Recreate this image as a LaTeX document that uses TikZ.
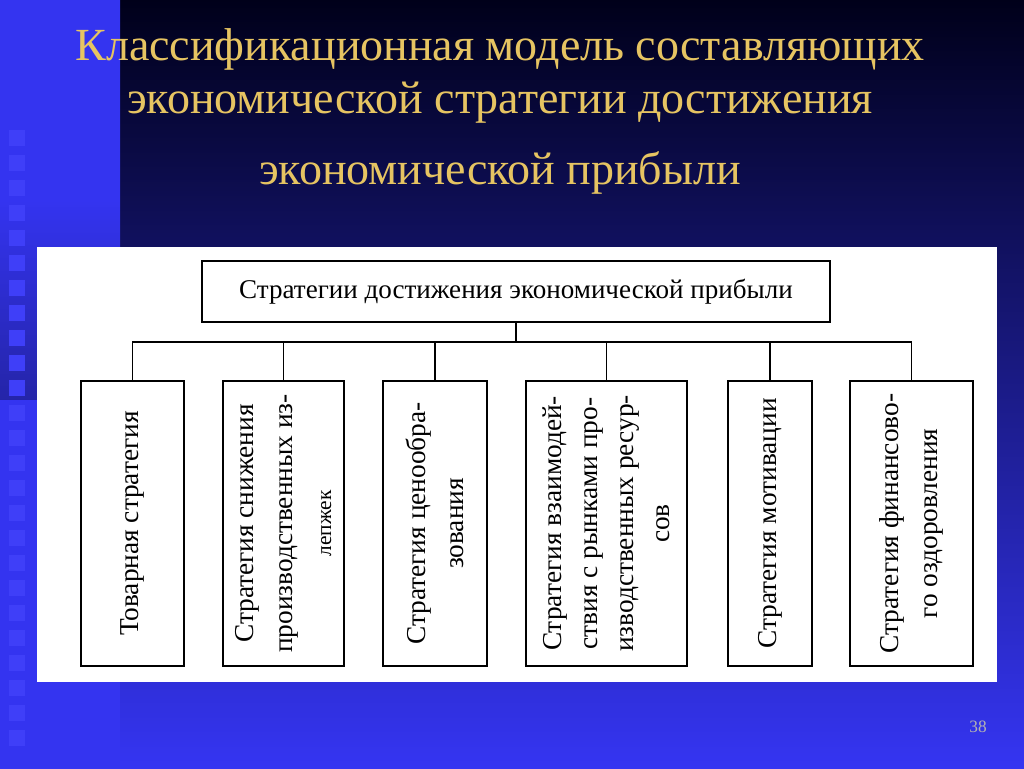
\documentclass[tikz,border=0pt]{standalone}
\usepackage{fontspec}
\setmainfont{Liberation Serif}
\definecolor{gold}{HTML}{E6C462}
\definecolor{topnavy}{HTML}{00001A}
\definecolor{botblue}{HTML}{3535F2}
\definecolor{strip}{HTML}{3434F0}
\definecolor{sq}{HTML}{3F3FF8}
\begin{document}
\begin{tikzpicture}[x=0.75pt,y=-0.75pt,
  box/.style={draw=black,line width=1.2pt,fill=white,inner sep=0},
  vtext/.style={rotate=90,align=center,font=\fontsize{20.5}{29}\selectfont},
  ttl/.style={text=gold,font=\fontsize{34.5}{40}\selectfont,anchor=base},
  wire/.style={draw=black,line width=1pt}]
\useasboundingbox (0,0) rectangle (1024,768);
\shade[top color=topnavy,bottom color=botblue] (0,0) rectangle (1024,768);
\shade[top color=strip,bottom color=strip!70!black,middle color=strip] (0,0) rectangle (120,400);
\fill[strip] (0,400) rectangle (120,768);
\foreach \i in {0,...,24} {\fill[sq] (9,{130+\i*25}) rectangle (25,{146+\i*25});}
\fill[white] (37,247) rectangle (997,682);
\node[ttl] (t1) at (500,60) {Классификационная модель составляющих};
\node[ttl] (t2) at (500,113) {экономической стратегии достижения};
\node[ttl] (t3) at (500,184) {экономической прибыли};
\node[box,minimum width=628*0.75pt,minimum height=61*0.75pt,font=\fontsize{20.3}{24}\selectfont] (top) at (516,291.5) {Стратегии достижения экономической прибыли};
\coordinate (bus) at (506,342);
\node[box,minimum width=103*0.75pt,minimum height=285*0.75pt] (c1) at (132.5,523.5) {};
\node[box,minimum width=121*0.75pt,minimum height=285*0.75pt] (c2) at (283.5,523.5) {};
\node[box,minimum width=104*0.75pt,minimum height=285*0.75pt] (c3) at (435,523.5) {};
\node[box,minimum width=161*0.75pt,minimum height=285*0.75pt] (c4) at (606.5,523.5) {};
\node[box,minimum width=84*0.75pt,minimum height=285*0.75pt] (c5) at (770,523.5) {};
\node[box,minimum width=123*0.75pt,minimum height=285*0.75pt] (c6) at (911.5,523.5) {};
\node[vtext] (l1) at (c1) {Товарная стратегия};
\node[vtext] (l2) at (c2) {Стратегия снижения\\производственных из-\\{\fontsize{16}{18}\selectfont лепжек}};
\node[vtext] (l3) at (c3) {Стратегия ценообра-\\зования};
\node[vtext,font=\fontsize{20.5}{27}\selectfont] (l4) at (c4) {Стратегия взаимодей-\\ствия с рынками про-\\изводственных ресур-\\сов};
\node[vtext] (l5) at (c5) {Стратегия мотивации};
\node[vtext] (l6) at (c6) {Стратегия финансово-\\го оздоровления};
\draw[wire] (top.south) |- (bus);
\draw[wire] (c1.north) -- (c1.north|-bus) -- (c6.north|-bus) -- (c6.north);
\foreach \c in {c2,c3,c4,c5} {\draw[wire] (\c.north) -- (\c.north|-bus);}
\node[text=gray!60,font=\fontsize{13}{15}\selectfont] (pg) at (978,727) {38};
\end{tikzpicture}
\end{document}
